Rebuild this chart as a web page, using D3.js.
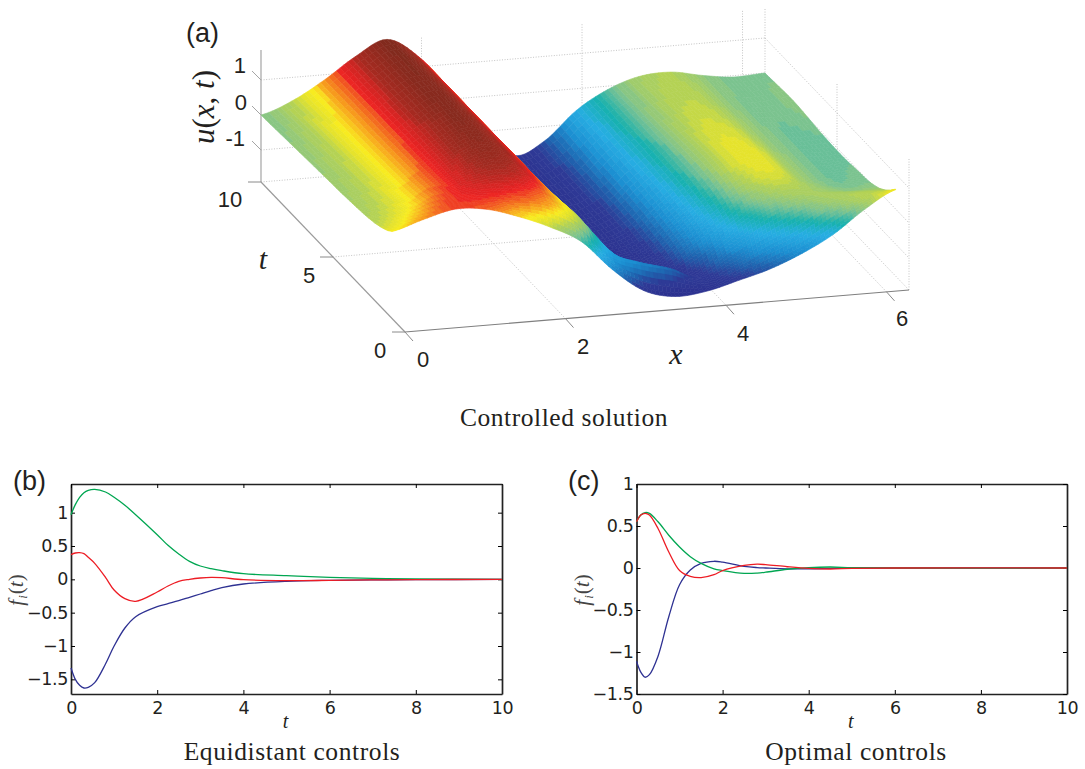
<!DOCTYPE html>
<html>
<head>
<meta charset="utf-8">
<script src="https://d3js.org/d3.v7.min.js"></script>
<style>
body { margin: 0; background: #fff; }
text { fill: #231f20; }
.serif { font-family: "Liberation Serif", serif; }
.sans { font-family: "Liberation Sans", sans-serif; }
.tick text { font-family: "DejaVu Sans", sans-serif; font-size: 17.5px; letter-spacing: -0.4px; }
.grid3d { stroke: #b5b5b5; stroke-width: 0.8; stroke-dasharray: 1 1.6; fill: none; }
</style>
</head>
<body>
<script>
// surface values, one row per t
var xGrid = [0, 0.39, 0.79, 1.18, 1.57, 1.96, 2.36, 2.75, 3.14, 3.53, 3.93, 4.32, 4.71, 5.11, 5.50, 5.89, 6.28];
var tGrid = [10, 8, 6, 4.5, 3.5, 2.75, 2.1, 1.6, 1.2, 0.9];
var uRows = [
  [0, .33, .85, 1.45, 1.86, 1.3, .25, -.8, -1.75, -1.42, -.62, -.1, .2, .25, .08, -.04, 0],
  [.06, .36, .86, 1.45, 1.84, 1.3, .25, -.8, -1.75, -1.5, -.7, -.12, .25, .3, .08, -.04, .05],
  [.12, .38, .86, 1.45, 1.82, 1.3, .25, -.8, -1.75, -1.55, -.78, -.15, .33, .38, .1, -.06, -.05],
  [.16, .4, .88, 1.42, 1.78, 1.3, .27, -.78, -1.75, -1.6, -.88, -.2, .38, .45, .12, -.07, -.07],
  [.2, .43, .9, 1.4, 1.72, 1.3, .28, -.75, -1.75, -1.68, -.98, -.3, .35, .47, .13, -.06, -.03],
  [.24, .47, .94, 1.36, 1.62, 1.28, .3, -.72, -1.72, -1.75, -1.08, -.42, .22, .42, .14, -.03, 0],
  [.3, .56, 1.0, 1.32, 1.45, 1.2, .38, -.68, -1.65, -1.8, -1.25, -.62, -.02, .26, .18, .08, .1],
  [.38, .68, 1.06, 1.22, 1.2, 1.0, .42, -.6, -1.5, -1.88, -1.6, -.95, -.4, 0, .2, .25, .25],
  [.47, .77, 1.07, 1.1, .95, .8, .3, -.72, -1.05, -1.3, -1.7, -1.35, -.9, -.5, 0, .25, .42],
  [.57, .84, 1.06, .98, .7, .33, -.17, -1.05, -1.72, -1.96, -1.88, -1.65, -1.4, -1.03, -.56, .08, .57]
];
var colorStops = [-2, -1.6, -1.35, -1, -.6, -.3, -.05, .1, .28, .45, .6, .85, 1.15, 1.5, 1.9];
var colorRange = ["#2b2f8e", "#2e3a96", "#1f62ae", "#1c90d2", "#27aee3", "#17b1ad", "#74c195", "#96c977", "#b3d255", "#e2e22e", "#f9ec1f", "#f7941d", "#ec2224", "#a52a20", "#7f2a1d"];

// panel (b)
var bT = [0, .1, .2, .3, .4, .55, .8, 1, 1.25, 1.5, 2, 2.25, 2.5, 2.75, 3, 3.25, 3.5, 4, 5, 6, 7, 8, 10];
var bGreen = [.97, 1.12, 1.23, 1.3, 1.335, 1.35, 1.31, 1.23, 1.11, .97, .67, .51, .38, .27, .2, .16, .13, .085, .055, .03, .015, .008, 0];
var bRed = [.37, .395, .4, .385, .33, .24, .03, -.16, -.29, -.33, -.19, -.1, -.03, 0, .02, .03, .025, -.005, -.02, -.015, -.008, -.005, 0];
var bBlue = [-1.33, -1.5, -1.59, -1.63, -1.62, -1.55, -1.27, -1, -.73, -.56, -.41, -.365, -.32, -.27, -.22, -.17, -.125, -.07, -.03, -.015, -.008, -.005, 0];

// panel (c)
var cT = [0, .1, .2, .3, .5, .75, 1, 1.25, 1.5, 1.8, 2, 2.5, 2.8, 3, 3.5, 4, 4.5, 5, 6, 10];
var cGreen = [.55, .63, .66, .65, .55, .39, .25, .135, .055, -.01, -.03, -.063, -.06, -.05, -.015, .005, .012, .005, 0, 0];
var cRed = [.55, .63, .65, .63, .47, .19, -.03, -.1, -.115, -.08, -.03, .03, .045, .04, .015, -.005, -.012, -.005, 0, 0];
var cBlue = [-1.11, -1.24, -1.3, -1.27, -1.05, -.58, -.2, -.025, .055, .08, .07, .02, .005, 0, -.01, -.01, -.005, 0, 0, 0];

var bYTicks = [-1.5, -1, -.5, 0, .5, 1];
var cYTicks = [-1.5, -1, -.5, 0, .5, 1];
var tTicks = [0, 2, 4, 6, 8, 10];

var svg = d3.select("body").append("svg").attr("width", 1085).attr("height", 769);

// ---- panel a: projection of the 3d box onto the page
var xH = d3.scaleLinear().domain([0, 6.28]).range([0, 504]);
var xV = d3.scaleLinear().domain([0, 6.28]).range([0, -42]);
var tH = d3.scaleLinear().domain([0, 10]).range([405, 261]);
var tV = d3.scaleLinear().domain([0, 10]).range([332, 182]);
var zV = d3.scaleLinear().domain([-1.914, 1.857]).range([0, -132]);
var zMin = zV.domain()[0], zMax = zV.domain()[1];

function project(x, t, z) {
  return [xH(x) + tH(t), xV(x) + tV(t) + zV(z)];
}

var a = svg.append("g");

function seg(sel, p, q, cls) {
  return sel.append("line").attr("x1", p[0]).attr("y1", p[1]).attr("x2", q[0]).attr("y2", q[1]).attr("class", cls);
}

// dotted grid on floor and back walls
[2, 4, 6, 6.28].forEach(function(x) {
  seg(a, project(x, 0, zMin), project(x, 10, zMin), "grid3d");
  seg(a, project(x, 10, zMin), project(x, 10, zMax), "grid3d");
});
seg(a, project(0, 5, zMin), project(6.28, 5, zMin), "grid3d");
seg(a, project(6.28, 5, zMin), project(6.28, 5, zMax), "grid3d");
seg(a, project(6.28, 0, zMin), project(6.28, 0, zMax), "grid3d");
seg(a, project(0, 10, zMin), project(6.28, 10, zMin), "grid3d");
[-1, 0, 1].forEach(function(z) {
  seg(a, project(0, 10, z), project(6.28, 10, z), "grid3d");
  seg(a, project(6.28, 10, z), project(6.28, 0, z), "grid3d");
});

// axes
function axisLine(p, q, col, w) {
  seg(a, p, q, "").attr("stroke", col).attr("stroke-width", w);
}
axisLine(project(0, 10, zMin), project(0, 10, zMax), "#a4a4a4", 1.2);
axisLine(project(0, 10, zMin), project(0, 0, zMin), "#9a9a9a", 1.2);
axisLine(project(0, 0, zMin), project(6.28, 0, zMin), "#7f7f7f", 1.2);
[0, 2, 4, 6].forEach(function(x) {
  var p = project(x, 0, zMin);
  axisLine(p, [p[0] + 8, p[1] + 9], "#8a8a8a", 1);
});
[0, 5, 10].forEach(function(t) {
  var p = project(0, t, zMin);
  axisLine(p, [p[0] - 13, p[1]], "#8a8a8a", 1);
});
[-1, 0, 1].forEach(function(z) {
  var p = project(0, 10, z);
  axisLine(p, [p[0] - 9, p[1] - 9], "#a4a4a4", 1);
});

// surface: cells painted far to near, each cell shaded in smaller sub cells
var ramp = d3.scaleLinear().domain(colorStops).range(colorRange).clamp(true);
var colour = d3.scaleQuantize().domain([-2, 1.9]).range(d3.range(64).map(function(i) {
  return ramp(-2 + (i + .5) / 64 * 3.9);
}));
var rowT = d3.scaleLinear().domain(d3.range(tGrid.length)).range(tGrid);
var colX = d3.scaleLinear().domain(d3.range(xGrid.length)).range(xGrid);

function cr(p0, p1, p2, p3, s) {
  return .5 * (2 * p1 + (p2 - p0) * s + (2 * p0 - 5 * p1 + 4 * p2 - p3) * s * s + (3 * p1 - p0 - 3 * p2 + p3) * s * s * s);
}
function uAt(ci, ri) {
  var i = Math.min(Math.floor(ci), xGrid.length - 2), j = Math.min(Math.floor(ri), tGrid.length - 2);
  var s = ci - i, r = ri - j, vals = [];
  for (var k = -1; k <= 2; k++) {
    var row = uRows[Math.max(0, Math.min(tGrid.length - 1, j + k))];
    var g = function(n) { return row[Math.max(0, Math.min(xGrid.length - 1, n))]; };
    vals.push(cr(g(i - 1), g(i), g(i + 1), g(i + 2), s));
  }
  return cr(vals[0], vals[1], vals[2], vals[3], r);
}

var subX = 8, subT = 6, cells = [];
var nR = (tGrid.length - 1) * subT, nC = (xGrid.length - 1) * subX;
for (var r = 0; r < nR; r++) {
  for (var c = nC - 1; c >= 0; c--) {
    cells.push({c: c / subX, r: r / subT, dc: 1 / subX, dr: 1 / subT});
  }
}
var line = d3.line();
var surf = a.append("g");
surf.selectAll("path").data(cells).enter().append("path")
  .attr("d", function(d) {
    var pts = [[d.c, d.r], [d.c + d.dc, d.r], [d.c + d.dc, d.r + d.dr], [d.c, d.r + d.dr]].map(function(q) {
      return project(colX(q[0]), rowT(q[1]), uAt(q[0], q[1]));
    });
    return line(pts) + "Z";
  })
  .each(function(d) {
    var col = colour(uAt(d.c + d.dc / 2, d.r + d.dr / 2));
    d3.select(this).attr("fill", col).attr("stroke", col).attr("stroke-width", .6);
  });

// panel a labels
function label(txt, x, y, size, cls, anchor) {
  return svg.append("text").attr("x", x).attr("y", y).attr("font-size", size)
    .attr("class", cls).attr("text-anchor", anchor || "middle").text(txt);
}
label("(a)", 186, 42, 27, "sans", "start");
label("1", 246, 73, 22, "sans", "end");
label("0", 247, 110, 22, "sans", "end");
label("-1", 245, 146, 22, "sans", "end");
label("10", 230, 207, 22, "sans");
label("5", 309, 283, 22, "sans");
label("0", 380, 358, 22, "sans");
label("0", 423, 367, 22, "sans");
label("2", 583, 354, 22, "sans");
label("4", 743, 341, 22, "sans");
label("6", 902, 326, 22, "sans");
label("t", 263, 269, 30, "serif").attr("font-style", "italic");
label("x", 676, 364, 30, "serif").attr("font-style", "italic");
var ul = svg.append("text").attr("class", "serif").attr("font-size", 31).attr("text-anchor", "middle")
  .attr("transform", "translate(214,107) rotate(-90)");
ul.append("tspan").attr("font-style", "italic").text("u");
ul.append("tspan").text("(");
ul.append("tspan").attr("font-style", "italic").text("x");
ul.append("tspan").text(", ");
ul.append("tspan").attr("font-style", "italic").text("t");
ul.append("tspan").text(")");
label("Controlled solution", 564, 426, 25.5, "serif").attr("letter-spacing", .55);

// ---- panels b and c
var minus = function(d) { return String(d).replace("-", "\u2212"); };

function panel(left, right, yDomain, yTicks, ts, series, tag, tagX, title, titleX) {
  var x = d3.scaleLinear().domain([0, 10]).range([left, right]);
  var y = d3.scaleLinear().domain(yDomain).range([694, 484]);
  var g = svg.append("g");
  g.append("g").attr("transform", "translate(0,694)")
    .call(d3.axisBottom(x).tickValues(tTicks).tickSizeInner(-4).tickSizeOuter(0).tickPadding(8).tickFormat(minus));
  g.append("g").attr("transform", "translate(" + left + ",0)")
    .call(d3.axisLeft(y).tickValues(yTicks).tickSizeInner(-4).tickSizeOuter(0).tickPadding(3).tickFormat(minus));
  g.append("g").attr("transform", "translate(0,484)")
    .call(d3.axisTop(x).tickValues(tTicks).tickSizeInner(-4).tickSizeOuter(0).tickFormat(""));
  g.append("g").attr("transform", "translate(" + right + ",0)")
    .call(d3.axisRight(y).tickValues(yTicks).tickSizeInner(-4).tickSizeOuter(0).tickFormat(""));
  g.selectAll(".domain").attr("stroke", "#222").attr("stroke-width", 1.7);
  var path = d3.line().x(function(d, i) { return x(ts[i]); }).y(function(d) { return y(d); }).curve(d3.curveCatmullRom.alpha(.5));
  series.forEach(function(s) {
    g.append("path").attr("d", path(s.v)).attr("fill", "none").attr("stroke", s.c).attr("stroke-width", 1.3);
  });
  label(tag, tagX, 490, 27, "sans", "start");
  label("t", (left + right) / 2 - 1, 728, 20, "serif").attr("font-style", "italic");
  label(title, titleX, 760, 25.5, "serif").attr("letter-spacing", .6);
  var fl = svg.append("text").attr("class", "serif").attr("font-size", 21).attr("text-anchor", "middle")
    .attr("transform", "translate(" + (left - 48) + ",590) rotate(-90)").style("fill", "#444");
  fl.append("tspan").attr("font-style", "italic").text("f");
  fl.append("tspan").attr("font-style", "italic").attr("font-size", 13).attr("dy", 4).attr("dx", 1).text("i");
  fl.append("tspan").attr("dy", -4).attr("dx", 1).text("(");
  fl.append("tspan").attr("font-style", "italic").text("t");
  fl.append("tspan").text(")");
}

panel(71, 502, [-1.72, 1.43], bYTicks, bT, [
  {v: bBlue, c: "#2e3192"}, {v: bGreen, c: "#00a651"}, {v: bRed, c: "#ed1c24"}
], "(b)", 13, "Equidistant controls", 292);
panel(636.5, 1067, [-1.5, 1], cYTicks, cT, [
  {v: cBlue, c: "#2e3192"}, {v: cGreen, c: "#00a651"}, {v: cRed, c: "#ed1c24"}
], "(c)", 568, "Optimal controls", 856);
</script>
</body>
</html>
